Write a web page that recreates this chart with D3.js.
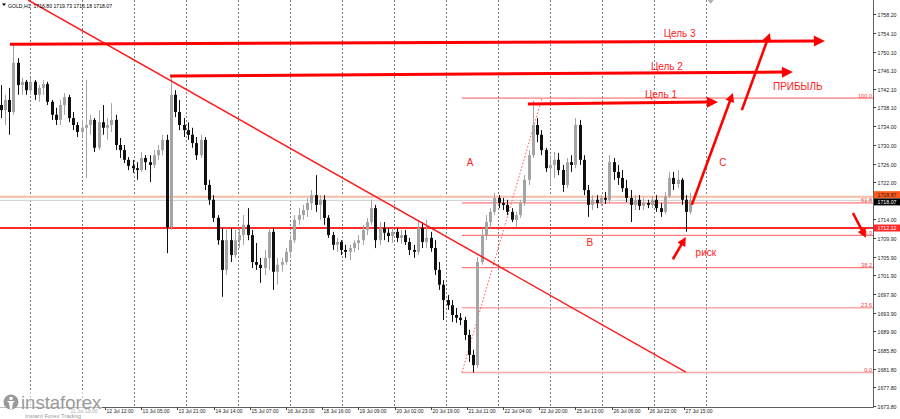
<!DOCTYPE html>
<html><head><meta charset="utf-8">
<script src="https://cdn.jsdelivr.net/npm/d3@7/dist/d3.min.js"></script>
<style>body{margin:0;background:#fff;overflow:hidden}svg{display:block}</style>
</head><body>
<svg id="c" width="900" height="419"></svg>
<script>
// ---------- DATA ----------
// 2-hour candles, GOLD (hour index relative to 12 Jul 12:00)
const firstHour = -50, barHours = 2;
const open = [1738.6,1737.5,1739.7,1737.1,1747.7,1742.9,1743.6,1741.8,1743.6,1740.8,1742.3,1743.1,1739.3,1736.5,1735.4,1738.6,1740.3,1735.8,1734.3,1732.8,
1733.7,1734.3,1735.4,1729.4,1734.9,1733.7,1734.3,1735.4,1730.0,1728.9,1726.8,1725.5,1725.0,1724.6,1727.2,1726.3,1725.7,1727.8,1728.9,1731.1,
1712.3,1740.8,1737.1,1734.3,1733.2,1732.2,1730.4,1727.8,1731.1,1721.4,1718.2,1714.3,1709.5,1703.1,1709.5,1706.3,1709.5,1710.6,1712.8,1710.6,
1704.8,1704.2,1703.5,1705.7,1711.3,1702.7,1704.2,1704.8,1707.0,1709.5,1713.9,1714.9,1716.0,1717.5,1719.2,1717.1,1718.2,1714.3,1710.6,1708.5,
1709.1,1707.4,1707.0,1707.8,1708.9,1709.5,1711.7,1713.4,1716.4,1709.5,1712.1,1711.1,1710.4,1711.3,1710.0,1710.6,1709.1,1707.4,1707.0,1712.1,
1709.1,1710.0,1707.8,1703.1,1699.9,1696.6,1695.5,1693.4,1692.8,1692.3,1689.1,1684.8,1682.6,1704.8,1710.6,1713.4,1715.6,1718.6,1717.5,1717.1,
1715.6,1713.9,1714.9,1717.5,1722.5,1727.8,1734.3,1732.2,1728.9,1725.0,1725.7,1726.8,1724.6,1721.4,1726.3,1725.7,1734.3,1726.8,1720.3,1717.1,
1718.2,1717.5,1718.6,1718.2,1726.3,1724.2,1722.9,1720.7,1718.6,1717.1,1718.2,1716.9,1717.5,1717.1,1718.2,1716.4,1715.6,1719.0,1722.9,1721.6,
1722.5,1718.2,1715.6];
const high = [1742.9,1740.8,1742.3,1751.7,1748.7,1744.4,1744.0,1744.4,1744.0,1742.9,1744.0,1743.6,1739.7,1738.0,1739.7,1741.2,1740.8,1737.1,1734.9,1735.4,
1744.0,1736.5,1735.8,1737.5,1738.6,1735.8,1739.0,1736.5,1731.5,1730.0,1727.4,1726.8,1726.3,1728.5,1727.8,1727.8,1728.9,1730.0,1732.2,1732.2,
1744.6,1741.8,1739.7,1735.8,1734.9,1733.7,1731.7,1732.2,1731.7,1722.5,1719.2,1714.9,1712.1,1712.1,1712.1,1711.7,1712.1,1714.9,1716.4,1711.7,
1708.9,1705.7,1707.4,1712.1,1712.1,1705.7,1705.7,1707.8,1710.6,1714.9,1716.4,1717.1,1718.6,1720.3,1723.5,1719.2,1719.2,1714.9,1711.3,1710.0,
1709.5,1708.5,1708.5,1709.5,1710.6,1712.8,1714.3,1718.2,1717.1,1713.4,1713.4,1712.1,1712.1,1712.1,1711.7,1711.7,1710.0,1708.5,1713.9,1713.4,
1713.9,1711.3,1709.5,1704.8,1700.9,1697.7,1696.6,1694.9,1693.8,1693.0,1690.2,1685.9,1705.9,1712.1,1714.9,1716.4,1719.7,1719.2,1718.6,1718.2,
1716.4,1715.6,1718.2,1723.5,1728.9,1739.5,1735.8,1733.2,1729.4,1727.8,1728.5,1728.3,1725.7,1727.2,1727.8,1735.8,1735.4,1727.8,1721.4,1719.2,
1719.2,1719.2,1719.9,1727.8,1727.2,1725.7,1724.6,1722.5,1720.3,1719.2,1719.2,1718.6,1718.2,1719.0,1719.2,1717.5,1719.9,1724.2,1724.2,1724.6,
1722.9,1719.2,1719.7];
const low = [1735.8,1734.3,1732.2,1736.5,1740.8,1740.8,1740.8,1740.8,1739.7,1739.3,1740.8,1738.6,1735.4,1734.3,1734.3,1736.5,1734.9,1733.2,1731.7,1731.7,
1722.9,1732.2,1728.5,1728.9,1732.2,1731.1,1732.8,1728.9,1727.2,1726.1,1724.6,1724.0,1722.5,1724.2,1724.6,1722.0,1725.0,1726.8,1727.8,1706.7,
1711.7,1736.0,1733.2,1731.7,1731.1,1729.4,1726.8,1727.2,1720.3,1717.1,1713.4,1708.5,1697.3,1702.0,1704.8,1705.7,1707.8,1708.5,1709.5,1703.5,
1703.1,1700.3,1702.0,1703.1,1698.8,1699.9,1702.7,1704.2,1705.7,1708.9,1712.8,1713.9,1714.5,1716.0,1715.6,1713.9,1712.8,1710.0,1707.4,1707.0,
1706.3,1705.7,1705.2,1707.0,1707.4,1708.5,1710.6,1712.8,1707.8,1708.5,1709.5,1709.1,1708.9,1709.1,1708.7,1708.5,1706.3,1705.7,1706.3,1707.8,
1707.8,1707.0,1702.0,1698.8,1692.3,1694.5,1691.9,1691.7,1691.2,1688.0,1683.3,1681.0,1682.0,1704.2,1709.5,1712.1,1714.9,1716.4,1716.0,1714.9,
1713.4,1712.3,1714.3,1716.9,1721.4,1727.2,1730.6,1727.8,1724.2,1721.4,1722.9,1723.5,1719.9,1720.7,1724.2,1725.0,1725.7,1719.2,1714.5,1716.0,
1716.4,1716.9,1717.3,1717.5,1722.5,1721.4,1719.9,1717.7,1713.4,1716.0,1716.0,1716.0,1716.4,1716.4,1715.6,1714.5,1715.1,1718.6,1720.3,1720.7,
1717.1,1711.3,1715.1];
const close = [1737.5,1739.7,1737.1,1747.7,1742.9,1743.6,1741.8,1743.6,1740.8,1742.3,1743.1,1739.3,1736.5,1735.4,1738.6,1740.3,1735.8,1734.3,1732.8,1733.7,
1734.3,1735.4,1729.4,1734.9,1733.7,1734.3,1735.4,1730.0,1728.9,1726.8,1725.5,1725.0,1724.6,1727.2,1726.3,1725.7,1727.8,1728.9,1731.1,1712.3,
1740.8,1737.1,1734.3,1733.2,1732.2,1730.4,1727.8,1731.1,1721.4,1718.2,1714.3,1709.5,1703.1,1709.5,1706.3,1709.5,1710.6,1712.8,1710.6,1704.8,
1704.2,1703.5,1705.7,1711.3,1702.7,1704.2,1704.8,1707.0,1709.5,1713.9,1714.9,1716.0,1717.5,1719.2,1717.1,1718.2,1714.3,1710.6,1708.5,1709.1,
1707.4,1707.0,1707.8,1708.9,1709.5,1711.7,1713.4,1716.4,1709.5,1712.1,1711.1,1710.4,1711.3,1710.0,1710.6,1709.1,1707.4,1707.0,1712.1,1709.1,
1710.0,1707.8,1703.1,1699.9,1696.6,1695.5,1693.4,1692.8,1692.3,1689.1,1684.8,1682.6,1704.8,1710.6,1713.4,1715.6,1718.6,1717.5,1717.1,1715.6,
1713.9,1714.9,1717.5,1722.5,1727.8,1734.3,1732.2,1728.9,1725.0,1725.7,1726.8,1724.6,1721.4,1726.3,1725.7,1734.3,1726.8,1720.3,1717.1,1718.2,
1717.5,1718.6,1718.2,1726.3,1724.2,1722.9,1720.7,1718.6,1717.1,1718.2,1716.9,1717.5,1717.1,1718.2,1716.4,1715.6,1719.0,1722.9,1721.6,1722.5,
1718.2,1715.6,1718.07];

const timeLabels = ["11 Jul 19:00","12 Jul 12:00","13 Jul 05:00","13 Jul 21:00","14 Jul 14:00","15 Jul 07:00","16 Jul 23:00",
"18 Jul 16:00","19 Jul 09:00","20 Jul 02:00","20 Jul 19:00","21 Jul 11:00","22 Jul 04:00","22 Jul 20:00","25 Jul 13:00","26 Jul 06:00",
"26 Jul 22:00","27 Jul 15:00"];
const timeLabelHours = [-17,0,17,34,51,68,85,102,119,136,153,170,187,204,221,238,255,272];
const priceTicks = [1758.20,1754.10,1750.10,1746.10,1742.10,1738.10,1734.00,1730.00,1726.00,1722.00,1714.00,1709.90,1705.90,
1701.90,1697.90,1693.90,1689.90,1685.80,1681.80,1677.80,1673.80];

const fibLevels = [0.0, 23.6, 38.2, 50.0, 61.8, 100.0];
const fibLow = 1681.0, fibHigh = 1740.1, fibStartHour = 167.2, fibTopHour = 204.8;
const supportLevel = 1712.12, upperLevel = 1718.87, bidPrice = 1718.07;
const header = "GOLD,H1  1716.80 1719.73 1716.18 1718.07";

// trend line [hour, price]
const trendLine = [[-36.6, 1761.2], [272.4, 1681.1]];
// arrows: [hourFrom, priceFrom, hourTo, priceTo]
const targetArrows = [
  [-45.1, 1751.7, 337.7, 1752.4],
  [30.1, 1744.85, 322.7, 1745.7],
  [198.2, 1738.8, 287.5, 1739.25]
];
const moveArrows = [
  [275.2, 1717.1, 294.5, 1741.2],
  [298.7, 1737.5, 311.9, 1754.1],
  [266.3, 1705.4, 272.4, 1710.2],
  [350.9, 1715.35, 357.0, 1710.0]
];
const annotations = [
  ["Цель 3", 269.5, 1754.1], ["Цель 2", 263.5, 1747.0], ["Цель 1", 260.7, 1740.8],
  ["ПРИБЫЛЬ", 325.0, 1742.5], ["A", 171.0, 1726.3], ["B", 227.3, 1709.1],
  ["C", 289.8, 1726.3], ["риск", 281.8, 1706.9]
];

// ---------- DRAW ----------
const W = 900, H = 419, plotR = 873, plotB = 407;
const svg = d3.select("#c");
const x = d3.scaleLinear().domain([0, 272]).range([106, 685]);
const y = d3.scaleLinear().domain([1673.8, 1758.2]).range([406, 14]);
const FONT = "'Liberation Sans', Arial, sans-serif";

svg.append("defs").append("clipPath").attr("id","clip")
  .append("rect").attr("x",0).attr("y",0).attr("width",plotR).attr("height",plotB);
const plot = svg.append("g").attr("clip-path","url(#clip)");

// vertical dashed grid
const grid = d3.range(14).map(k => 30 + 52*k);
plot.selectAll("line.grid").data(grid).join("line")
  .attr("x1", d=>d+0.5).attr("x2", d=>d+0.5).attr("y1",0).attr("y2",plotB)
  .attr("stroke","#7a7a7a").attr("stroke-width",1).attr("stroke-dasharray","2,2");

// horizontal levels
plot.append("line").attr("x1",0).attr("x2",plotR).attr("y1",y(upperLevel)).attr("y2",y(upperLevel))
  .attr("stroke","#f7bca6").attr("stroke-width",2);
plot.append("line").attr("x1",0).attr("x2",plotR).attr("y1",y(bidPrice)).attr("y2",y(bidPrice))
  .attr("stroke","#cfcfcf").attr("stroke-width",1);
plot.append("line").attr("x1",0).attr("x2",plotR).attr("y1",y(supportLevel)).attr("y2",y(supportLevel))
  .attr("stroke","#ff2a2a").attr("stroke-width",2);

// fibonacci
const fibY = l => y(fibLow + (fibHigh - fibLow) * l / 100);
plot.selectAll("line.fib").data(fibLevels).join("line")
  .attr("x1", x(fibStartHour)).attr("x2", plotR)
  .attr("y1", d=>fibY(d)).attr("y2", d=>fibY(d))
  .attr("stroke", d => (d===0||d===23.6) ? "#ffa8a8" : "#ff5a5a")
  .attr("stroke-width", d => (d===0||d===23.6) ? 1.6 : 1);
plot.selectAll("text.fib").data(fibLevels).join("text")
  .attr("x", plotR-1).attr("y", d=>fibY(d)-0.5).attr("text-anchor","end")
  .attr("font-family",FONT).attr("font-size",5.6).attr("fill","#ff4040")
  .text(d=>d.toFixed(1));
plot.append("line").attr("x1",x(fibStartHour)).attr("y1",y(fibLow)).attr("x2",x(fibTopHour)).attr("y2",y(fibHigh))
  .attr("stroke","#ff5050").attr("stroke-width",1).attr("stroke-dasharray","1.5,2");

// candles
const bars = close.map((c,i)=>({o:open[i],h:high[i],l:low[i],c:c,t:firstHour+barHours*i+0.5}));
const cg = plot.append("g");
bars.forEach(b=>{
  const cx = Math.round(x(b.t)) + 0.5;
  const col = b.c >= b.o ? "#a4a4a4" : "#101010";
  cg.append("line").attr("x1",cx).attr("x2",cx).attr("y1",y(b.h)).attr("y2",y(b.l))
    .attr("stroke",col).attr("stroke-width",1);
  const top = y(Math.max(b.o,b.c)), bot = y(Math.min(b.o,b.c));
  cg.append("rect").attr("x",cx-1.5).attr("y",top).attr("width",3).attr("height",Math.max(1,bot-top))
    .attr("fill",col);
});

// trend line
plot.append("line").attr("x1",x(trendLine[0][0])).attr("y1",y(trendLine[0][1]))
  .attr("x2",x(trendLine[1][0])).attr("y2",y(trendLine[1][1]))
  .attr("stroke","#ff1a1a").attr("stroke-width",1.5);

// arrows
function arrow(g, d, width, headL, headW){
  const x1=x(d[0]), y1=y(d[1]), x2=x(d[2]), y2=y(d[3]);
  const ang=Math.atan2(y2-y1,x2-x1), ux=Math.cos(ang), uy=Math.sin(ang);
  const bx=x2-ux*headL, by=y2-uy*headL;
  g.append("line").attr("x1",x1).attr("y1",y1).attr("x2",bx+ux*1).attr("y2",by+uy*1)
    .attr("stroke","#ff0000").attr("stroke-width",width);
  g.append("path").attr("d",`M${x2},${y2}L${bx-uy*headW},${by+ux*headW}L${bx+uy*headW},${by-ux*headW}Z`)
    .attr("fill","#ff0000");
}
const ag = plot.append("g");
targetArrows.forEach(d=>arrow(ag,d,3,11,5.5));
moveArrows.forEach(d=>arrow(ag,d,2.6,9,4.5));

// annotations
plot.selectAll("text.ann").data(annotations).join("text")
  .attr("x",d=>x(d[1])).attr("y",d=>y(d[2])+3.5).attr("text-anchor","middle")
  .attr("font-family",FONT).attr("font-size",10).attr("fill","#ff2020").text(d=>d[0]);

// shift marker
svg.append("path").attr("d",`M${x(284)-3},0L${x(284)+3},0L${x(284)},4Z`).attr("fill","#b0b0b0");

// frame
svg.append("line").attr("x1",plotR+0.5).attr("x2",plotR+0.5).attr("y1",0).attr("y2",plotB+0.5)
  .attr("stroke","#606060");
svg.append("line").attr("x1",0).attr("x2",plotR+0.5).attr("y1",plotB+0.5).attr("y2",plotB+0.5)
  .attr("stroke","#606060");

// price axis
const ya = svg.append("g");
priceTicks.forEach(p=>{
  const yy = Math.round(y(p))+0.5;
  ya.append("line").attr("x1",plotR).attr("x2",plotR+3).attr("y1",yy).attr("y2",yy).attr("stroke","#404040");
  ya.append("text").attr("x",plotR+4.5).attr("y",yy+2.2).attr("font-family",FONT).attr("font-size",6)
    .attr("textLength",19).attr("lengthAdjust","spacingAndGlyphs")
    .attr("fill","#222").text(p.toFixed(2));
});
function priceBox(p, cy, fill, txtCol){
  ya.append("rect").attr("x",plotR+1).attr("y",cy-3.5).attr("width",W-plotR-1).attr("height",7).attr("fill",fill);
  ya.append("text").attr("x",plotR+4.5).attr("y",cy+2.1).attr("font-family",FONT).attr("font-size",5.6)
    .attr("textLength",19).attr("lengthAdjust","spacingAndGlyphs")
    .attr("fill",txtCol).text(p.toFixed(2));
}
priceBox(upperLevel, y(upperLevel)-2, "#ff5a1e", "#222");
priceBox(bidPrice, y(bidPrice)+1.5, "#000", "#fff");
priceBox(supportLevel, y(supportLevel), "#ff2a2a", "#fff");

// time axis
const xa = svg.append("g");
timeLabels.forEach((t,i)=>{
  const xx = Math.round(x(timeLabelHours[i]))+0.5;
  xa.append("line").attr("x1",xx-1).attr("x2",xx-1).attr("y1",plotB).attr("y2",plotB+3).attr("stroke","#404040");
  xa.append("text").attr("x",xx).attr("y",plotB+6.3).attr("font-family",FONT).attr("font-size",6)
    .attr("textLength",27).attr("lengthAdjust","spacingAndGlyphs")
    .attr("fill","#222").text(t);
});

// header
svg.append("path").attr("d","M2,3.5L6,3.5L4,6Z").attr("fill","#000");
svg.append("text").attr("x",8).attr("y",7.5).attr("font-family",FONT).attr("font-size",6)
  .attr("textLength",104).attr("lengthAdjust","spacingAndGlyphs")
  .attr("fill","#000").attr("xml:space","preserve").text(header);

// logo
const lg = svg.append("g");
lg.append("rect").attr("x",0).attr("y",392).attr("width",102).attr("height",27).attr("fill","#fff").attr("opacity",0.6);
lg.append("circle").attr("cx",11).attr("cy",402).attr("r",7.5).attr("fill","#9a9a9a");
lg.append("circle").attr("cx",11).attr("cy",398.5).attr("r",1.8).attr("fill","#fff");
lg.append("path").attr("d","M7,401L15,401L13,403L12,409L10,409L9,403Z").attr("fill","#fff");
lg.append("text").attr("x",21).attr("y",408.5).attr("font-family",FONT).attr("font-size",18.5)
  .attr("fill","#9a9a9a").text("instaforex");
lg.append("text").attr("x",25).attr("y",418).attr("font-family",FONT).attr("font-size",6)
  .attr("textLength",56).attr("lengthAdjust","spacingAndGlyphs")
  .attr("fill","#9a9a9a").text("Instant Forex Trading");
</script>
</body></html>
